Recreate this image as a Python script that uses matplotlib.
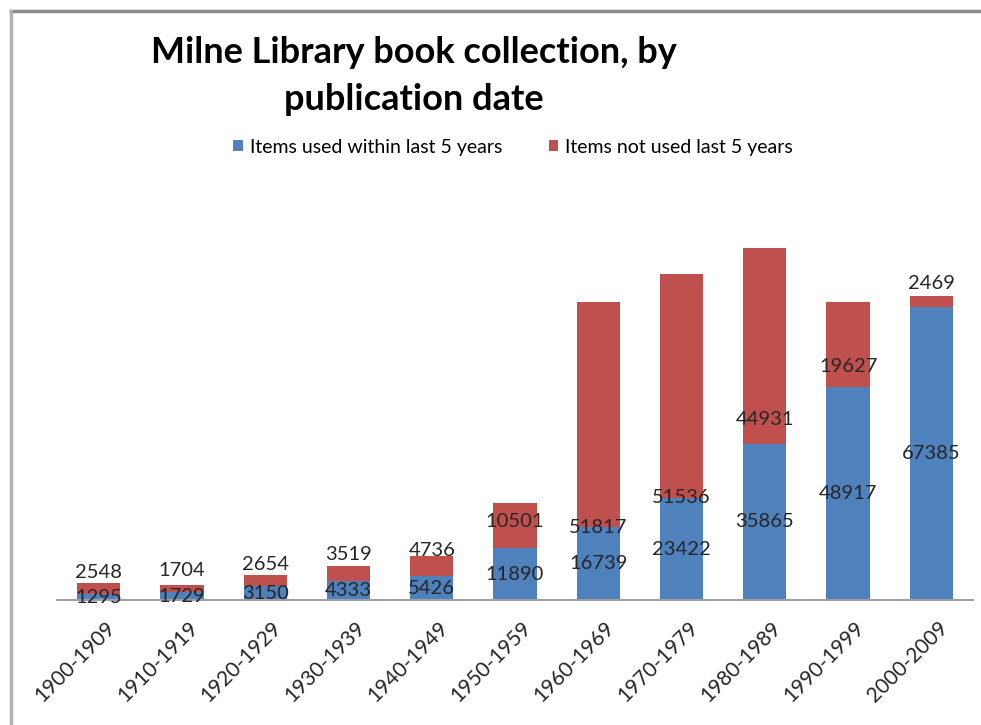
import matplotlib
matplotlib.use("Agg")
import matplotlib.pyplot as plt
from matplotlib.patches import Patch
from matplotlib.lines import Line2D
from matplotlib.transforms import ScaledTranslation

plt.rcParams['font.family'] = ['Lato', 'DejaVu Sans']

categories = ["1900-1909", "1910-1919", "1920-1929", "1930-1939", "1940-1949",
              "1950-1959", "1960-1969", "1970-1979", "1980-1989", "1990-1999",
              "2000-2009"]
used = [1295, 1729, 3150, 4333, 5426, 11890, 16739, 23422, 35865, 48917, 67385]
not_used = [2548, 1704, 2654, 3519, 4736, 10501, 51817, 51536, 44931, 19627, 2469]
series_names = ["Items used within last 5 years", "Items not used last 5 years"]
title = "Milne Library book collection, by\npublication date"

# label offsets (points) of the red-series labels above the blue top
red_label_dy = [16, 15.5, 15.5, 19, 18.5, 19, -0.5, 0.5, 17.5, 15, 17]

blue = "#4F81BD"
red = "#C0504D"
label_color = "#262626"

W, H = 981, 725
fig = plt.figure(figsize=(W / 100, H / 100), dpi=100)
fig.patch.set_facecolor("white")

ax_l, ax_r = 57, 973
base_y, top_y = 600, 200
ax = fig.add_axes([ax_l / W, (H - base_y) / H, (ax_r - ax_l) / W, (base_y - top_y) / H])
px_per_unit = 0.004352
ax.set_ylim(0, (base_y - top_y) / px_per_unit)
ax.set_xlim(-0.5, len(categories) - 0.5)

x = list(range(len(categories)))
ax.bar(x, used, width=0.52, color=blue, zorder=2)
ax.bar(x, not_used, width=0.52, bottom=used, color=red, zorder=2)

for i in x:
    ax.text(i, used[i] / 2, str(used[i]), ha="center", va="center",
            fontsize=14.5, color=label_color, zorder=3)
    ax.annotate(str(not_used[i]), xy=(i, used[i]), xytext=(0, red_label_dy[i]),
                textcoords="offset points", ha="center", va="center",
                fontsize=14.5, color=label_color, zorder=3)

for s in ["top", "right", "left"]:
    ax.spines[s].set_visible(False)
ax.spines["bottom"].set_color("#A0A0A0")
ax.spines["bottom"].set_linewidth(1.5)
ax.set_yticks([])
ax.set_xticks(x)
ax.set_xticklabels(categories, rotation=45, ha="right", rotation_mode="anchor",
                   fontsize=15, color=label_color)
ax.tick_params(axis="x", length=0, pad=13)
for lbl in ax.get_xticklabels():
    lbl.set_transform(lbl.get_transform() + ScaledTranslation(6 / 100, 0, fig.dpi_scale_trans))

fig.text(414 / W, 1 - 76 / H, title, ha="center", va="center", fontsize=26,
         fontweight="bold", linespacing=1.5, color="black")

handles = [Patch(facecolor=blue, edgecolor="none"), Patch(facecolor=red, edgecolor="none")]
fig.legend(handles, series_names, loc="center", bbox_to_anchor=(513 / W, 1 - 147 / H),
           ncol=2, frameon=False, fontsize=14, handlelength=0.5, handleheight=0.5,
           handletextpad=0.35, columnspacing=2.4)

# frame lines (top and left)
fig.add_artist(Line2D([11 / W, 1], [1 - 11 / H, 1 - 11 / H], color="#8C8C8C", lw=2.5,
                      transform=fig.transFigure))
fig.add_artist(Line2D([11 / W, 11 / W], [1 - 11 / H, 0], color="#B0B0B0", lw=2.5,
                      transform=fig.transFigure))

fig.savefig("out.png", dpi=100, facecolor="white")
